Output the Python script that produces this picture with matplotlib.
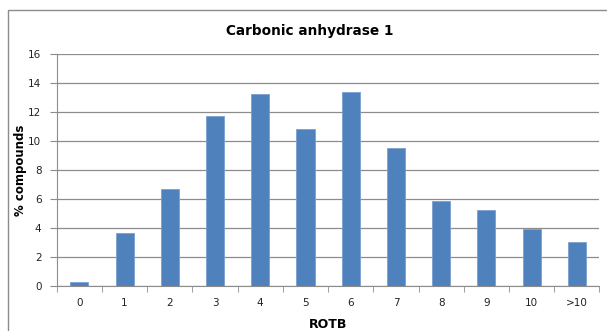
import matplotlib
matplotlib.use("Agg")
import matplotlib.pyplot as plt
from matplotlib.patches import Rectangle

categories = ["0", "1", "2", "3", "4", "5", "6", "7", "8", "9", "10", ">10"]
values = [0.23, 3.64, 6.69, 11.73, 13.28, 10.86, 13.42, 9.52, 5.84, 5.23, 3.92, 3.0]
yticks = [0, 2, 4, 6, 8, 10, 12, 14, 16]

W, H = 607, 331
fig = plt.figure(figsize=(W / 100, H / 100), dpi=100)
fig.patch.set_facecolor("white")

# outer chart border (left and top visible)
fig.add_artist(Rectangle((7.5 / W, -0.1), 1.2, (H - 9.5) / H + 0.1,
                         transform=fig.transFigure, fill=False,
                         edgecolor="#8c8c8c", linewidth=1.0))

left, right = 56.7, 599.5
top, bottom = 54.3, 285.7
ax = fig.add_axes([left / W, 1 - bottom / H, (right - left) / W, (bottom - top) / H])

x = list(range(len(categories)))
ax.bar(x, values, width=0.4, color="#4F81BD", edgecolor="#7A9FD0", linewidth=0.6, zorder=3)

ax.set_xlim(-0.5, len(categories) - 0.5)
ax.set_ylim(0, 16)
ax.set_yticks(yticks)
ax.set_yticklabels([str(v) for v in yticks], fontsize=7.5, color="#222222")
ax.set_xticks(x)
ax.set_xticklabels(categories, fontsize=7.5, color="#222222")
ax.tick_params(axis="x", length=0, pad=9)
ax.tick_params(axis="y", length=5, color="#8c8c8c", pad=6)

# category boundary ticks
ax.set_xticks([i - 0.5 for i in range(len(categories) + 1)], minor=True)
ax.tick_params(axis="x", which="minor", length=4, color="#8c8c8c", direction="out")

ax.grid(axis="y", color="#8c8c8c", linewidth=0.9, zorder=0)
for s in ["top", "right"]:
    ax.spines[s].set_visible(False)
ax.spines["left"].set_color("#8c8c8c")
ax.spines["bottom"].set_color("#8c8c8c")

ax.set_ylabel("% compounds", fontsize=8.5, fontweight="bold")
ax.yaxis.set_label_coords((20 - left) / (right - left), 0.5)
ax.set_xlabel("ROTB", fontsize=9, fontweight="bold")
ax.xaxis.set_label_coords(0.5, (bottom - 325) / (bottom - top))
ax.xaxis.label.set_va("center")
ax.yaxis.label.set_va("center")
fig.text(0.5 * (227 + 392) / W, 1 - 31.5 / H, "Carbonic anhydrase 1",
         ha="center", va="center", fontsize=9.8, fontweight="bold")

fig.savefig("out.png", dpi=100)
